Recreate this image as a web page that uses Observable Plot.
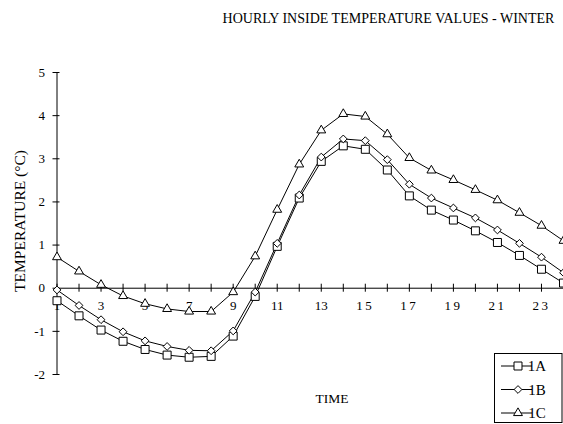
<!DOCTYPE html>
<html><head><meta charset="utf-8">
<script src="https://cdn.jsdelivr.net/npm/d3@7"></script>
<script src="https://cdn.jsdelivr.net/npm/@observablehq/plot@0.6"></script>
<style>
html,body{margin:0;padding:0;background:#fff;}
#wrap{position:relative;width:563px;height:424px;overflow:hidden;}
</style></head><body><div id="wrap"></div>
<script>
const title = "HOURLY INSIDE TEMPERATURE VALUES - WINTER";
const xTitle = "TIME";
const yTitle = "TEMPERATURE (°C)";
const hours = [1,2,3,4,5,6,7,8,9,10,11,12,13,14,15,16,17,18,19,20,21,22,23,24];
const xTickLabels = [1,3,5,7,9,11,13,15,17,19,21,23];
const yTicks = [-2,-1,0,1,2,3,4,5];
const seriesNames = ["1A","1B","1C"];
const seriesSymbols = ["square","diamond2","triangle"];
const values1A = [-0.29,-0.64,-0.97,-1.23,-1.42,-1.55,-1.60,-1.58,-1.11,-0.19,0.97,2.09,2.94,3.30,3.22,2.74,2.14,1.81,1.58,1.33,1.06,0.76,0.44,0.12];
const values1B = [-0.04,-0.40,-0.73,-1.01,-1.22,-1.35,-1.44,-1.45,-0.99,-0.09,1.04,2.16,3.04,3.46,3.42,2.98,2.41,2.09,1.86,1.63,1.35,1.04,0.72,0.36];
const values1C = [0.72,0.39,0.08,-0.18,-0.36,-0.48,-0.54,-0.54,-0.09,0.74,1.82,2.87,3.66,4.04,3.98,3.57,3.02,2.73,2.51,2.28,2.04,1.75,1.45,1.10];

const allValues = [values1A, values1B, values1C];
const data = seriesNames.flatMap((s, k) => hours.map((h, i) => ({hour: h, temp: allValues[k][i], series: s})));
const markerR = {"1A": 4.5, "1B": 3.5, "1C": 3.3};
const font = '"Liberation Serif","Times New Roman",serif';

const chart = Plot.plot({
  width: 563, height: 424,
  marginLeft: 56.5, marginRight: 0, marginTop: 72, marginBottom: 50,
  x: {domain: [1, 24], axis: null},
  y: {domain: [-2, 5], axis: null},
  r: {type: "identity"},
  symbol: {domain: seriesNames, range: seriesSymbols},
  style: {fontFamily: font, fontSize: "13px", background: "white", color: "black"},
  marks: [
    Plot.ruleY([0], {stroke: "black", strokeWidth: 1}),
    Plot.ruleX([1], {y1: -2, y2: 5, stroke: "black"}),
    Plot.ruleX(hours, {x: d => d, y1: 0, y2: 0, insetTop: -4, insetBottom: -4, stroke: "black"}),
    Plot.ruleY(yTicks, {y: d => d, x1: 1, x2: 1, insetLeft: -4, insetRight: -3, stroke: "black"}),
    Plot.text(xTickLabels, {x: d => d, y: 0, dy: 18, text: d => String(d), fill: "black", className: "xlab"}),
    Plot.text(yTicks, {x: 1, y: d => d, dx: -12, textAnchor: "end", text: d => String(d), fill: "black"}),
    Plot.line(data, {x: "hour", y: "temp", z: "series", stroke: "black", strokeWidth: 1}),
    Plot.dot(data, {x: "hour", y: "temp", symbol: "series", r: d => markerR[d.series], fill: "white", stroke: "black", strokeWidth: 1})
  ]
});
document.getElementById("wrap").appendChild(chart);

const svg = d3.select(chart);
// wider digit spacing for labels 15..23, as in the reference
svg.selectAll(".xlab text").filter(function() { return +this.textContent >= 15; }).style("letter-spacing", "2.5px");
svg.append("text").attr("x", 388.5).attr("y", 23).attr("text-anchor", "middle")
  .style("font-family", font).style("font-size", "14px").attr("fill", "black").text(title);
svg.append("text").attr("x", 332).attr("y", 403).attr("text-anchor", "middle")
  .style("font-family", font).style("font-size", "13.5px").attr("fill", "black").text(xTitle);
svg.append("text").attr("transform", "translate(24.5,221) rotate(-90)").attr("text-anchor", "middle")
  .style("font-family", font).style("font-size", "15.5px").attr("fill", "black").text(yTitle);

// legend
const symMap = {square: d3.symbolSquare, diamond2: d3.symbolDiamond2, triangle: d3.symbolTriangle};
const lg = svg.append("g");
lg.append("rect").attr("x", 494.5).attr("y", 353.5).attr("width", 67.5).attr("height", 69)
  .attr("fill", "white").attr("stroke", "black");
seriesNames.forEach((s, k) => {
  const cy = 366 + k * 23.5;
  lg.append("line").attr("x1", 501).attr("x2", 532).attr("y1", cy).attr("y2", cy).attr("stroke", "black");
  const r = markerR[s];
  lg.append("path").attr("transform", `translate(518,${cy})`)
    .attr("d", d3.symbol(symMap[seriesSymbols[k]], Math.PI * r * r)())
    .attr("fill", "white").attr("stroke", "black");
  lg.append("text").attr("x", 537).attr("y", cy + 5).style("font-family", font).style("font-size", "15px")
    .attr("fill", "black").text(s);
});
</script></body></html>
